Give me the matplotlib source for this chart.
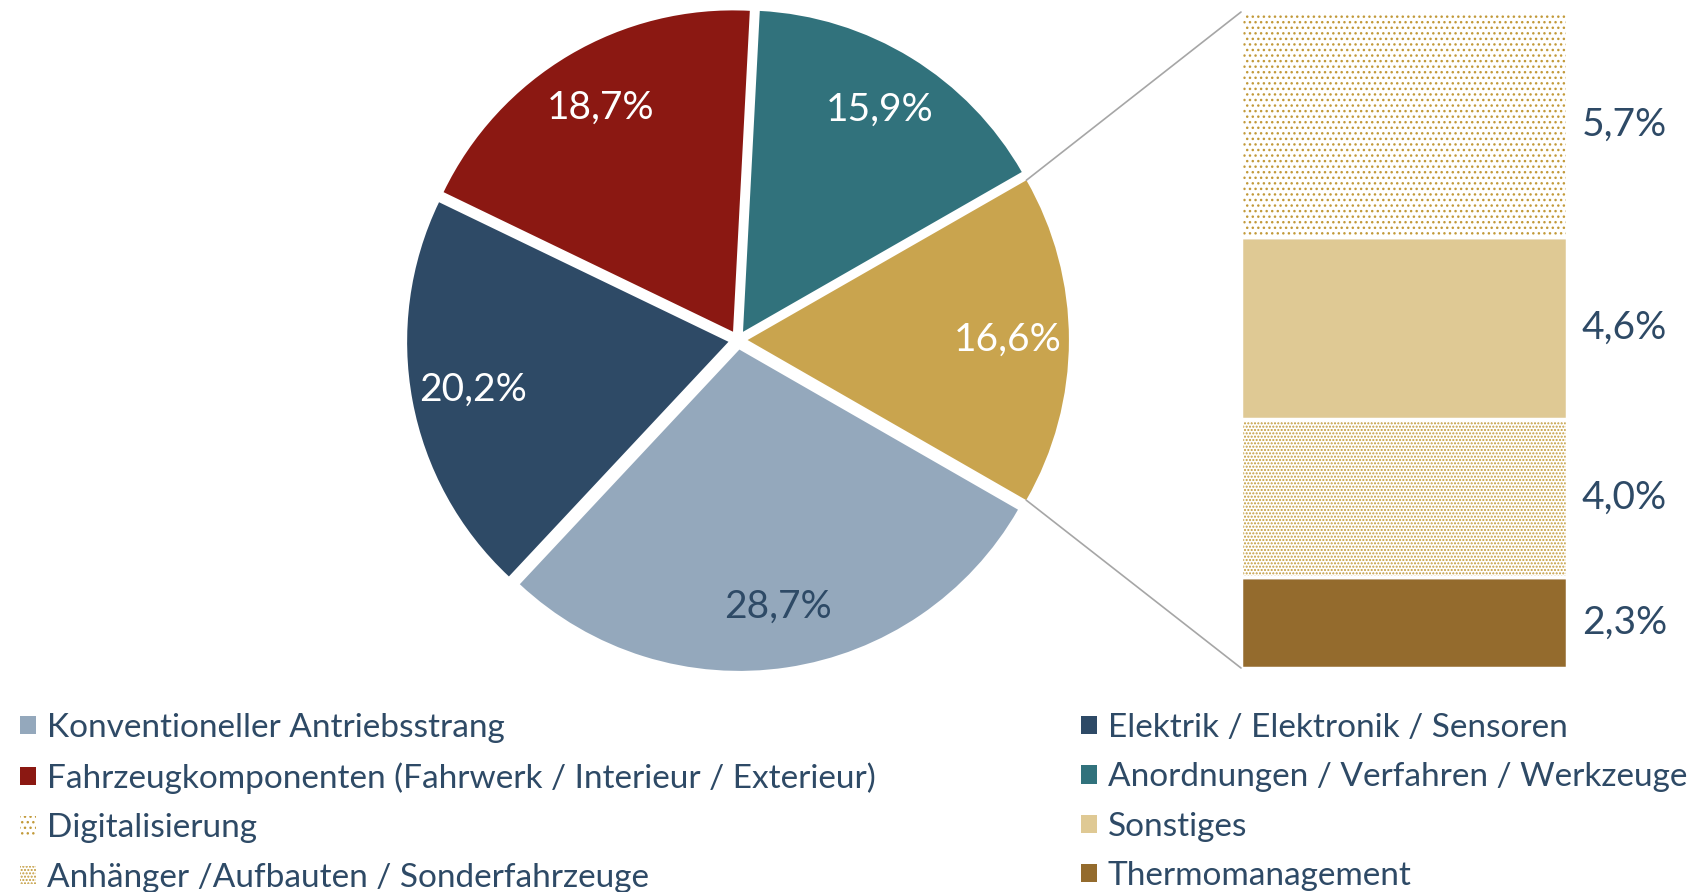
import matplotlib
matplotlib.use("Agg")
from matplotlib import pyplot as plt
from matplotlib.patches import Patch, ConnectionPatch
import numpy as np

plt.rcParams['font.family'] = ['Lato', 'DejaVu Sans']

# pie data (counter-clockwise, starting with the "other" slice on the right)
pie_labels = ["Sonstige Gruppe", "Anordnungen / Verfahren / Werkzeuge",
              "Fahrzeugkomponenten (Fahrwerk / Interieur / Exterieur)",
              "Elektrik / Elektronik / Sensoren", "Konventioneller Antriebsstrang"]
pie_values = [16.6, 15.9, 18.7, 20.2, 28.7]
pie_text = ["16,6%", "15,9%", "18,7%", "20,2%", "28,7%"]
pie_colors = ["#C9A44E", "#31727C", "#8B1812", "#2E4A66", "#94A8BC"]
pie_text_colors = ["white", "white", "white", "white", "#2E4A66"]

# breakdown of the 16,6% slice (bottom to top)
bar_labels = ["Thermomanagement", "Anhänger /Aufbauten / Sonderfahrzeuge",
              "Sonstiges", "Digitalisierung"]
bar_values = [2.3, 4.0, 4.6, 5.7]
bar_text = ["2,3%", "4,0%", "4,6%", "5,7%"]
bar_faces = ["#946B2D", "white", "#DFC994", "white"]
bar_hatches = [None, ".....", None, "..."]

navy = "#2E4A66"
gold_dot = "#C29A3A"

fig = plt.figure(figsize=(17.08, 8.92), dpi=100)

# pie
ax = fig.add_axes([0.2251, 0.2225, 0.4139, 0.7926])
start = -pie_values[0] * 3.6 / 2
it = iter(pie_text)
wedges, texts, autotexts = ax.pie(pie_values, colors=pie_colors, startangle=start,
                                  counterclock=True, explode=[0.03] * 5,
                                  autopct=lambda p: next(it), pctdistance=0.81,
                                  wedgeprops=dict(linewidth=0))
for t, c in zip(autotexts, pie_text_colors):
    t.set_color(c)
    t.set_fontsize(28)
ax.set_xlim(-1.1, 1.1)
ax.set_ylim(-1.1, 1.1)
ax.set_aspect('equal')
ax.axis('off')

# stacked bar
bx = fig.add_axes([1241 / 1708, 1 - 668 / 892, 326 / 1708, 656 / 892])
bottom = 0
for v, fc, h, txt in zip(bar_values, bar_faces, bar_hatches, bar_text):
    if h:
        bx.bar(0, v, bottom=bottom, width=1, color=fc, hatch=h,
               edgecolor=gold_dot, linewidth=0)
    else:
        bx.bar(0, v, bottom=bottom, width=1, color=fc, linewidth=0)
    bx.bar(0, v, bottom=bottom, width=1, fill=False, edgecolor="white", linewidth=2.5)
    bx.text(0.545, bottom + v / 2, txt, ha="left", va="center", fontsize=28,
            color=navy, clip_on=False)
    bottom += v
bx.set_xlim(-0.5, 0.5)
bx.set_ylim(0, sum(bar_values))
bx.axis('off')

# connector lines from the gold slice to the bar
w = wedges[0]
cx, cy = w.center
for ang, yb in [(w.theta2, 1), (w.theta1, 0)]:
    px = cx + 1.0 * np.cos(np.radians(ang))
    py = cy + 1.0 * np.sin(np.radians(ang))
    con = ConnectionPatch(xyA=(px, py), coordsA=ax.transData,
                          xyB=(0, yb), coordsB=bx.transAxes,
                          color="#A6A6A6", linewidth=1.2)
    fig.add_artist(con)

# legend
left_items = [
    Patch(facecolor="#94A8BC", label="Konventioneller Antriebsstrang"),
    Patch(facecolor="#8B1812", label="Fahrzeugkomponenten (Fahrwerk / Interieur / Exterieur)"),
    Patch(facecolor="white", edgecolor=gold_dot, hatch="...", linewidth=0, label="Digitalisierung"),
    Patch(facecolor="white", edgecolor=gold_dot, hatch=".....", linewidth=0,
          label="Anhänger /Aufbauten / Sonderfahrzeuge"),
]
right_items = [
    Patch(facecolor="#2E4A66", label="Elektrik / Elektronik / Sensoren"),
    Patch(facecolor="#31727C", label="Anordnungen / Verfahren / Werkzeuge"),
    Patch(facecolor="#DFC994", label="Sonstiges"),
    Patch(facecolor="#946B2D", label="Thermomanagement"),
]
for items, x0 in [(left_items, 20 / 1708), (right_items, 1081 / 1708)]:
    leg = fig.legend(handles=items, loc="upper left", bbox_to_anchor=(x0, 1 - 713 / 892),
                     frameon=False, fontsize=24, handlelength=0.47, handleheight=0.47,
                     handletextpad=0.33, labelspacing=0.58, borderpad=0, borderaxespad=0)
    for t in leg.get_texts():
        t.set_color(navy)

fig.savefig("out.png", dpi=100)
